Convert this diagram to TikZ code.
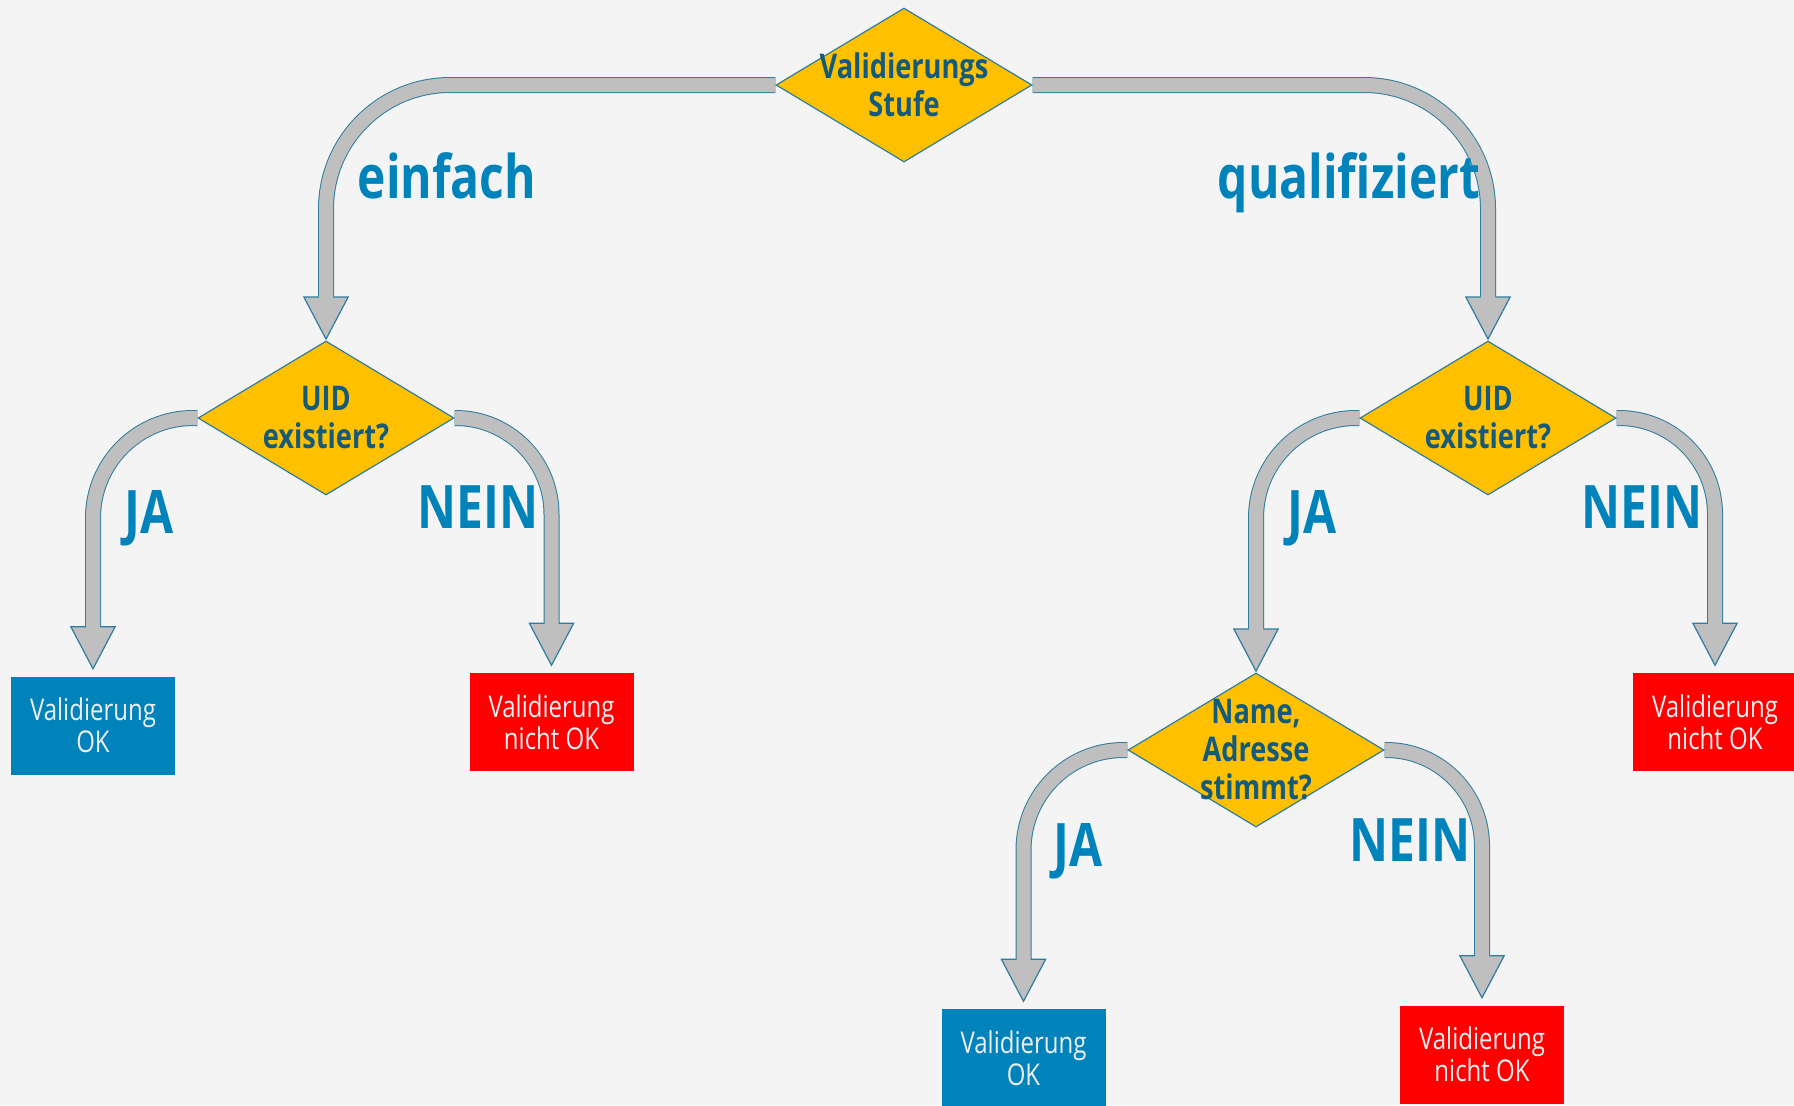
\documentclass[tikz,border=0pt]{standalone}
\usepackage{fontspec}
\setmainfont{Open Sans}
\newfontfamily\flowfont[FakeStretch=0.8]{Open Sans}
\usetikzlibrary{shapes.geometric,arrows.meta}

\definecolor{pagebg}{RGB}{244,244,244}
\definecolor{gold}{RGB}{255,192,0}
\definecolor{edgeblue}{RGB}{46,125,160}
\definecolor{darkteal}{RGB}{20,90,122}
\definecolor{labelblue}{RGB}{0,131,186}
\definecolor{okblue}{RGB}{0,131,187}
\definecolor{failred}{RGB}{255,0,0}
\definecolor{linkgray}{RGB}{191,191,191}
\definecolor{boxtext}{RGB}{238,238,242}

\pgfdeclarelayer{bg}
\pgfdeclarelayer{links}
\pgfsetlayers{bg,links,main}

\tikzset{
  decision/.style={diamond, draw=edgeblue, line width=0.6pt, fill=gold,
    minimum width=128pt, minimum height=77pt, inner sep=0pt},
  decisiontext/.style={text=darkteal, align=center,
    font=\flowfont\bfseries\fontsize{17}{19}\selectfont},
  result/.style={rectangle, minimum width=82pt, minimum height=49pt, inner sep=0pt,
    text=boxtext, align=center, font=\flowfont\fontsize{15}{16}\selectfont},
  okbox/.style={result, fill=okblue},
  failbox/.style={result, fill=failred},
  branch/.style={text=labelblue, anchor=base,
    font=\flowfont\bfseries\fontsize{30}{30}\selectfont},
  link/.style={draw=linkgray, line width=7pt, shorten >=#1+21pt,
    preaction={draw=edgeblue, line width=8pt, shorten >=#1,
      -{Triangle[line width=0.6pt, length=22pt, width=23pt, fill=linkgray]}}},
  link/.default=0pt
}

\begin{document}
\begin{tikzpicture}[x=0.5pt,y=-0.5pt]
  \begin{pgfonlayer}{bg}
    \fill[pagebg] (0,0) rectangle (1794,1105);
  \end{pgfonlayer}
  \useasboundingbox (0,0) rectangle (1794,1105);
  %
  \node[decision, label={[decisiontext]center:{Validierungs\\Stufe}}] (stufe) at (904,85) {};
  \node[decision, label={[decisiontext]center:{UID\\existiert?}}] (uidl) at (326,418) {};
  \node[decision, label={[decisiontext]center:{UID\\existiert?}}] (uidr) at (1488,418) {};
  \node[decision, label={[decisiontext]center:{Name,\\Adresse\\stimmt?}}] (check) at (1256,750) {};
  %
  \node[okbox] (okl) at (93,725.5) {Validierung\\OK};
  \node[failbox] (faill) at (551.5,722) {Validierung\\nicht OK};
  \node[failbox] (failr) at (1715,722) {Validierung\\nicht OK};
  \node[okbox] (okb) at (1023.5,1058) {Validierung\\OK};
  \node[failbox] (failb) at (1482,1054.5) {Validierung\\nicht OK};
  %
  \node[branch] (simple) at (447,198) {einfach};
  \node[branch] (qualified) at (1349,198) {qualifiziert};
  \node[branch] (yesl) at (149,533) {JA};
  \node[branch] (nol) at (478,528) {NEIN};
  \node[branch] (yesr) at (1312,533) {JA};
  \node[branch] (nor) at (1642,528) {NEIN};
  \node[branch] (yesb) at (1078,866) {JA};
  \node[branch] (nob) at (1410,861) {NEIN};
  %
  \begin{pgfonlayer}{links}
    \draw[link, rounded corners=62pt] (stufe.west) -| (uidl.north);
    \draw[link, rounded corners=62pt] (stufe.east) -| (uidr.north);
    \draw[link=3pt, rounded corners=50pt] (uidl.west) -| (okl.north);
    \draw[link=3pt, rounded corners=48pt] (uidl.east) -| (faill.north);
    \draw[link, rounded corners=50pt] (uidr.west) -| (check.north);
    \draw[link=3pt, rounded corners=48pt] (uidr.east) -| (failr.north);
    \draw[link=3pt, rounded corners=50pt] (check.west) -| (okb.north);
    \draw[link=3pt, rounded corners=48pt] (check.east) -| (failb.north);
  \end{pgfonlayer}
\end{tikzpicture}
\end{document}
